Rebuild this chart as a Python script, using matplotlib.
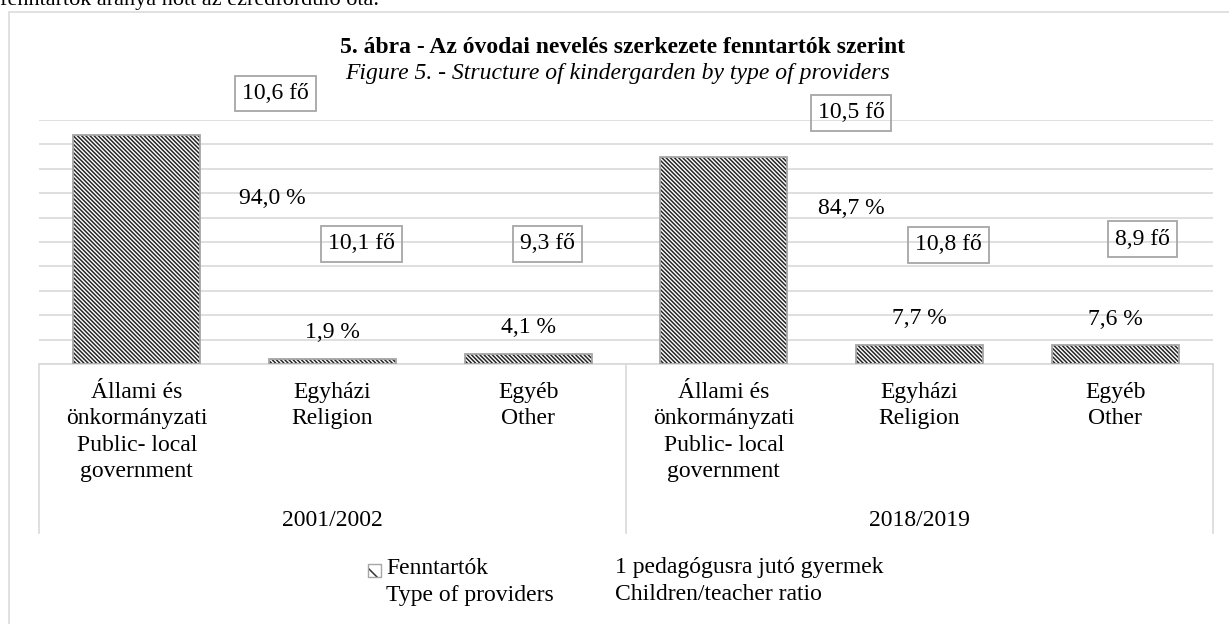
import matplotlib.pyplot as plt
from matplotlib.patches import Rectangle
import matplotlib.transforms as mtransforms

plt.rcParams['font.family'] = ['Liberation Serif', 'DejaVu Serif']
plt.rcParams['hatch.linewidth'] = 1.1

years = ['2001/2002', '2018/2019']
providers = ['Állami és\nönkormányzati\nPublic- local\ngovernment',
             'Egyházi\nReligion', 'Egyéb\nOther']
share = [94.0, 1.9, 4.1, 84.7, 7.7, 7.6]       # Fenntartók, %
ratio = [10.6, 10.1, 9.3, 10.5, 10.8, 8.9]     # children per teacher

# the labels in the original were dragged around by hand
pct_dx = [0.69, 0, 0, 0.65, 0, 0]        # in category widths
pct_dy = [-46, 19, 19, -37, 19, 19]      # points from bar top
ratio_dx = [0.71, 0.15, 0.10, 0.65, 0.15, 0.14]
ratio_y = [111.0, 49.2, 49.2, 102.9, 48.8, 51.2]

GRID = '#d9d9d9'
FS = 17
W, H = 1229, 624

fig = plt.figure(figsize=(W / 100, H / 100), dpi=100)

# bit of the body text above the chart and the chart frame
fig.text(0, 1 - 5 / H, 'fenntartók aránya nőtt az ezredforduló óta.',
         fontsize=16, va='baseline', ha='left')
fig.patches.append(Rectangle((9 / W, -0.1), 1.2, 1.1 - 12 / H, transform=fig.transFigure,
                             fill=False, ec=GRID, lw=1.1))

fig.text(623 / W, 1 - 53 / H, '5. ábra - Az óvodai nevelés szerkezete fenntartók szerint',
         fontsize=FS, fontweight='bold', ha='center', va='baseline')
fig.text(618 / W, 1 - 79 / H, 'Figure 5. - Structure of kindergarden by type of providers',
         fontsize=FS, fontstyle='italic', ha='center', va='baseline')

ax = fig.add_axes([39 / W, 1 - 364 / H, (1213 - 39) / W, 244 / H])
x = list(range(len(share)))

ax.bar(x, share, width=0.65, color='white', edgecolor='#262626', hatch='\\' * 8,
       linewidth=0, zorder=2)
ax.bar(x, share, width=0.65, fill=False, edgecolor='#a6a6a6', linewidth=1.3, zorder=3)

ax.set_xlim(-0.5, len(share) - 0.5)
ax.set_ylim(0, 100)
ax.set_yticks(range(0, 101, 10))
ax.yaxis.grid(True, color=GRID, lw=1.2)
ax.set_axisbelow(True)
ax.tick_params(left=False, labelleft=False, bottom=False, labelbottom=False)
for s in ['left', 'right', 'top']:
    ax.spines[s].set_visible(False)
ax.spines['bottom'].set_color(GRID)
ax.spines['bottom'].set_linewidth(1.2)

# percent labels
for i, v in enumerate(share):
    ax.annotate(f'{v:.1f} %'.replace('.', ','), (i + pct_dx[i], v),
                xytext=(0, pct_dy[i]), textcoords='offset points',
                ha='center', va='center', fontsize=FS, zorder=4)

# children/teacher labels in boxes
for i, v in enumerate(ratio):
    ax.text(i + ratio_dx[i], ratio_y[i], f'{v:.1f} fő'.replace('.', ','),
            ha='center', va='center', fontsize=FS, zorder=4, clip_on=False,
            bbox=dict(boxstyle='square,pad=0.3', fc='none', ec='#a6a6a6', lw=1.3))

# two level category axis
trans = mtransforms.blended_transform_factory(ax.transData, ax.transAxes)
n = len(providers)
for g, yr in enumerate(years):
    for j, name in enumerate(providers):
        ax.text(g * n + j, -18 / 244, name, transform=trans, ha='center', va='top',
                fontsize=FS, linespacing=1.33)
    ax.text(g * n + (n - 1) / 2, -156 / 244, yr, transform=trans,
            ha='center', va='center', fontsize=FS)
for b in [-0.5, n - 0.5, 2 * n - 0.5]:
    ax.plot([b, b], [0, -169 / 244], transform=trans, color=GRID, lw=1.2, clip_on=False)

# legend
fig.patches.append(Rectangle((368 / W, 1 - 577 / H), 13 / W, 13 / H, transform=fig.transFigure,
                             fc='white', ec='#333333', hatch='\\\\', lw=0))
fig.patches.append(Rectangle((368 / W, 1 - 577 / H), 13 / W, 13 / H, transform=fig.transFigure,
                             fill=False, ec='#a6a6a6', lw=1.0))
fig.text(386 / W, 1 - 568 / H, 'Fenntartók', fontsize=FS, va='center')
fig.text(386 / W, 1 - 595 / H, 'Type of providers', fontsize=FS, va='center')
fig.text(615 / W, 1 - 568 / H, '1 pedagógusra jutó gyermek', fontsize=FS, va='center')
fig.text(615 / W, 1 - 595 / H, 'Children/teacher ratio', fontsize=FS, va='center')

fig.savefig('out.png', dpi=100)
